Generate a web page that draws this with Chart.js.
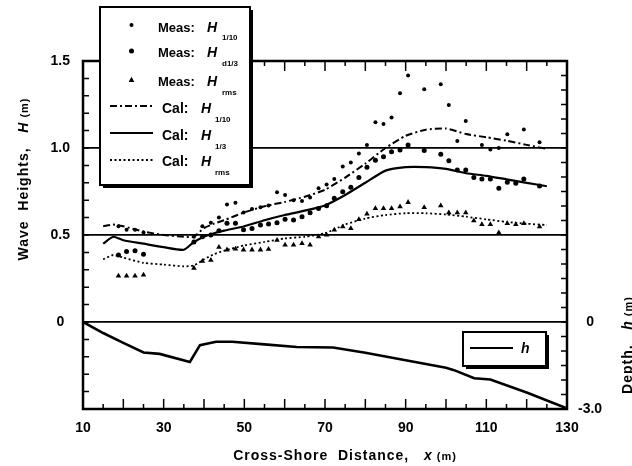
<!DOCTYPE html>
<html>
<head>
<meta charset="utf-8">
<script src="https://cdn.jsdelivr.net/npm/chart.js@4.4.1/dist/chart.umd.min.js"></script>
<style>
  html, body { margin: 0; padding: 0; background: #fff; }
  #wrap { width: 632px; height: 466px; }
</style>
</head>
<body>
<div id="wrap"><canvas id="myChart" width="632" height="466"></canvas></div>
<script>
// measured gauges: cross-shore position (m) and wave heights (m)
const measX = [18.8, 20.8, 22.9, 25, 37.5, 39.6, 41.7, 43.7, 45.7, 47.8, 49.8, 51.9, 54, 56, 58.1, 60.1, 62.2, 64.3, 66.3, 68.4,
  70.4, 72.3, 74.4, 76.4, 78.4, 80.4, 82.5, 84.5, 86.5, 88.6, 90.6, 94.6, 98.7, 100.7, 102.8, 104.9, 106.9, 108.9, 111, 113.1,
  115.2, 117.3, 119.3, 123.2];
const measH110 = [0.55, 0.53, 0.53, 0.515, 0.49, 0.55, 0.57, 0.6, 0.675, 0.685, 0.63, 0.65, 0.66, 0.67, 0.745, 0.73, 0.7, 0.695, 0.715, 0.768,
  0.79, 0.822, 0.893, 0.916, 0.969, 1.017, 1.148, 1.138, 1.176, 1.314, 1.416, 1.337, 1.366, 1.247, 1.04, 1.155, null, 1.017, 0.992, 1.0,
  1.079, null, 1.107, 1.033];
const measH13 = [0.385, 0.405, 0.41, 0.39, 0.46, 0.49, 0.5, 0.525, 0.567, 0.567, 0.53, 0.538, 0.557, 0.563, 0.57, 0.59, 0.586, 0.605, 0.628, 0.653,
  0.668, 0.711, 0.749, 0.774, 0.831, 0.889, 0.93, 0.95, 0.979, 0.989, 1.017, 0.985, 0.964, 0.927, 0.874, 0.874, 0.831, 0.822, 0.822, 0.768,
  0.803, 0.797, 0.822, 0.782];
const measHrms = [0.265, 0.265, 0.265, 0.27, 0.31, 0.35, 0.355, 0.43, 0.415, 0.42, 0.415, 0.415, 0.415, 0.418, 0.47, 0.443, 0.443, 0.452, 0.443, 0.49,
  0.5, 0.529, 0.548, 0.538, 0.59, 0.621, 0.653, 0.653, 0.653, 0.663, 0.688, 0.659, 0.668, 0.628, 0.628, 0.628, 0.582, 0.561, 0.561, 0.513,
  0.567, 0.561, 0.567, 0.548];

// calculated wave heights
const calX = [15, 17.5, 20, 25, 30, 35, 37.5, 40, 42.5, 45, 50, 55, 60, 65, 70, 75, 80, 85, 90, 95, 100, 105, 110, 115, 120, 125];
const calH110 = [0.55, 0.56, 0.55, 0.52, 0.5, 0.49, 0.49, 0.54, 0.565, 0.585, 0.63, 0.665, 0.69, 0.72, 0.76, 0.83, 0.91, 1.0, 1.07, 1.105, 1.112, 1.08, 1.062, 1.042, 1.018, 0.995];
const calH13 = [0.45, 0.49, 0.47, 0.45, 0.43, 0.415, 0.46, 0.49, 0.51, 0.525, 0.55, 0.585, 0.615, 0.64, 0.67, 0.73, 0.8, 0.87, 0.89, 0.89, 0.88, 0.855, 0.84, 0.82, 0.8, 0.78];
const calHrms = [0.36, 0.385, 0.37, 0.34, 0.33, 0.32, 0.325, 0.36, 0.39, 0.41, 0.44, 0.46, 0.48, 0.49, 0.51, 0.56, 0.595, 0.615, 0.625, 0.625, 0.618, 0.605, 0.59, 0.575, 0.565, 0.557];

// bottom profile, depth h (m)
const depthX = [10, 15, 20, 25, 29, 36.5, 39, 43, 47, 55, 63, 72, 80, 90, 100, 102, 107, 111, 120, 130];
const depthH = [0, -0.38, -0.72, -1.05, -1.1, -1.38, -0.8, -0.68, -0.68, -0.77, -0.86, -0.88, -1.06, -1.32, -1.58, -1.66, -1.94, -1.98, -2.43, -2.98];

const depthTicks = [-3, 0];
const gridLines = [0, 0.5, 1];

const FONT = "'Liberation Sans', Arial, sans-serif";

const pts = (xs, ys) => xs.map((x, i) => ({ x: x, y: ys[i] }));

function runs(ctx, parts, x, y, align) {
  let w = 0;
  parts.forEach((p) => { ctx.font = p.f; w += ctx.measureText(p.t).width; });
  let cx = align === "center" ? x - w / 2 : x;
  parts.forEach((p) => {
    ctx.font = p.f;
    ctx.fillText(p.t, cx, y + (p.dy || 0));
    cx += ctx.measureText(p.t).width;
  });
}

function box(ctx, l, t, w, h) {
  ctx.fillStyle = "#000";
  ctx.fillRect(l + 3, t + 3, w, h);
  ctx.fillStyle = "#fff";
  ctx.fillRect(l, t, w, h);
  ctx.lineWidth = 2;
  ctx.strokeStyle = "#000";
  ctx.strokeRect(l, t, w, h);
}

function triangle(ctx, x, y, r) {
  ctx.beginPath();
  ctx.moveTo(x, y - r);
  ctx.lineTo(x + r * 0.9, y + r * 0.6);
  ctx.lineTo(x - r * 0.9, y + r * 0.6);
  ctx.closePath();
  ctx.fill();
}

const decor = {
  id: "decor",
  afterDraw(chart) {
    const { ctx, chartArea: a, scales } = chart;
    const sx = scales.x, sy = scales.y, sy2 = scales.y2;
    ctx.save();
    ctx.strokeStyle = "#000";
    ctx.fillStyle = "#000";

    // inward tick marks
    ctx.lineWidth = 1.5;
    ctx.beginPath();
    for (let v = 15; v < 130; v += 5) {
      const px = sx.getPixelForValue(v);
      const len = v % 10 === 0 ? 10 : 5;
      ctx.moveTo(px, a.bottom); ctx.lineTo(px, a.bottom - len);
      ctx.moveTo(px, a.top); ctx.lineTo(px, a.top + len);
    }
    for (let i = -4; i < 15; i++) {
      const py = sy.getPixelForValue(i / 10);
      ctx.moveTo(a.left, py); ctx.lineTo(a.left + 6, py);
    }
    for (let i = -5; i < 18; i++) {
      const py = sy2.getPixelForValue(i * 0.5);
      ctx.moveTo(a.right, py); ctx.lineTo(a.right - 6, py);
    }
    ctx.stroke();

    // frame
    ctx.lineWidth = 2.5;
    ctx.strokeRect(a.left, a.top, a.right - a.left, a.bottom - a.top);

    // axis titles
    ctx.textAlign = "left";
    ctx.textBaseline = "alphabetic";
    ctx.fillStyle = "#000";
    ctx.letterSpacing = "1px";
    runs(ctx, [
      { t: "Cross-Shore  Distance,   ", f: "bold 14px " + FONT },
      { t: "x", f: "italic bold 14px " + FONT },
      { t: " (m)", f: "bold 11px " + FONT }
    ], 345, 460, "center");

    ctx.save();
    ctx.translate(28, 179);
    ctx.rotate(-Math.PI / 2);
    runs(ctx, [
      { t: "Wave  Heights,   ", f: "bold 14px " + FONT },
      { t: "H", f: "italic bold 14px " + FONT },
      { t: " (m)", f: "bold 11px " + FONT }
    ], 0, 0, "center");
    ctx.restore();

    ctx.save();
    ctx.translate(632, 345);
    ctx.rotate(-Math.PI / 2);
    runs(ctx, [
      { t: "Depth,   ", f: "bold 14px " + FONT },
      { t: "h", f: "italic bold 14px " + FONT },
      { t: " (m)", f: "bold 11px " + FONT }
    ], 0, 0, "center");
    ctx.restore();
    ctx.letterSpacing = "0px";

    // main legend
    box(ctx, 100, 7, 150, 178);
    ctx.fillStyle = "#000";
    ctx.beginPath(); ctx.arc(131.5, 25, 2, 0, Math.PI * 2); ctx.fill();
    ctx.beginPath(); ctx.arc(131.5, 51, 2.5, 0, Math.PI * 2); ctx.fill();
    triangle(ctx, 131.5, 80, 3.2);

    const lines = [[106, [7, 3, 2, 3], 2], [133, [], 2.2], [160, [2, 2.5], 1.8]];
    lines.forEach(([yy, dash, w]) => {
      ctx.beginPath();
      ctx.setLineDash(dash);
      ctx.lineWidth = w;
      ctx.moveTo(110, yy); ctx.lineTo(153, yy);
      ctx.stroke();
    });
    ctx.setLineDash([]);

    const meas = [["1/10", 31.5], ["d1/3", 57], ["rms", 86]];
    meas.forEach(([sub, base]) => {
      ctx.font = "bold 13px " + FONT; ctx.fillText("Meas:", 158, base);
      ctx.font = "italic bold 14px " + FONT; ctx.fillText("H", 207, base);
      ctx.font = "bold 8px " + FONT; ctx.fillText(sub, 222, base + 8.5);
    });
    const cal = [["1/10", 113], ["1/3", 140], ["rms", 166]];
    cal.forEach(([sub, base]) => {
      ctx.font = "bold 14px " + FONT; ctx.fillText("Cal:", 162, base);
      ctx.font = "italic bold 14px " + FONT; ctx.fillText("H", 201, base);
      ctx.font = "bold 8px " + FONT; ctx.fillText(sub, 215, base + 9);
    });

    // depth legend
    box(ctx, 463, 332, 83, 34);
    ctx.fillStyle = "#000";
    ctx.lineWidth = 2;
    ctx.beginPath(); ctx.moveTo(470, 348); ctx.lineTo(513, 348); ctx.stroke();
    ctx.font = "italic bold 14px " + FONT;
    ctx.fillText("h", 521, 353);

    ctx.restore();
  }
};

const tickFont = { family: FONT, size: 14, weight: "bold" };

new Chart(document.getElementById("myChart").getContext("2d"), {
  type: "scatter",
  data: {
    datasets: [
      { label: "depth", data: pts(depthX, depthH), yAxisID: "y2", showLine: true, pointRadius: 0,
        borderColor: "#000", borderWidth: 2.6, tension: 0 },
      { label: "Cal H1/10", data: pts(calX, calH110), showLine: true, pointRadius: 0,
        borderColor: "#000", borderWidth: 2, borderDash: [7, 3, 2, 3], tension: 0.2 },
      { label: "Cal H1/3", data: pts(calX, calH13), showLine: true, pointRadius: 0,
        borderColor: "#000", borderWidth: 2.2, tension: 0.2 },
      { label: "Cal Hrms", data: pts(calX, calHrms), showLine: true, pointRadius: 0,
        borderColor: "#000", borderWidth: 1.8, borderDash: [2, 2.5], tension: 0.2 },
      { label: "Meas H1/10", data: pts(measX, measH110), pointRadius: 2, pointStyle: "circle",
        backgroundColor: "#000", borderColor: "#000", borderWidth: 0 },
      { label: "Meas H1/3", data: pts(measX, measH13), pointRadius: 2.5, pointStyle: "circle",
        backgroundColor: "#000", borderColor: "#000", borderWidth: 0 },
      { label: "Meas Hrms", data: pts(measX, measHrms), pointRadius: 3.2, pointStyle: "triangle",
        backgroundColor: "#000", borderColor: "#000", borderWidth: 0 }
    ]
  },
  options: {
    responsive: false,
    animation: false,
    devicePixelRatio: 1,
    layout: { padding: { top: 61, left: 0, right: 0, bottom: 0 } },
    plugins: { legend: { display: false }, tooltip: { enabled: false } },
    scales: {
      x: {
        type: "linear", position: "bottom", min: 10, max: 130,
        ticks: { stepSize: 20, color: "#000", font: tickFont, padding: 11, maxRotation: 0 },
        grid: { display: false, drawTicks: false },
        border: { display: false },
        afterFit: (s) => { s.height = 57; }
      },
      y: {
        type: "linear", position: "left", min: -0.5, max: 1.5,
        ticks: {
          stepSize: 0.5, color: "#000", font: tickFont, padding: 13, crossAlign: "center",
          callback: (v) => (v < 0 ? "" : v === 0 ? "0" : v.toFixed(1))
        },
        grid: {
          drawTicks: false, lineWidth: 1.8,
          color: (c) => (c.tick && gridLines.includes(c.tick.value) ? "#000" : "rgba(0,0,0,0)")
        },
        border: { display: false },
        afterFit: (s) => { s.width = 83; }
      },
      y2: {
        type: "linear", position: "right", min: -3, max: 9,
        afterBuildTicks: (s) => { s.ticks = depthTicks.map((v) => ({ value: v })); },
        ticks: {
          color: "#000", font: tickFont, padding: 11, crossAlign: "center",
          callback: (v) => (v === 0 ? "0" : v.toFixed(1))
        },
        grid: { display: false, drawTicks: false },
        border: { display: false },
        afterFit: (s) => { s.width = 65; }
      }
    }
  },
  plugins: [decor]
});
</script>
</body>
</html>
